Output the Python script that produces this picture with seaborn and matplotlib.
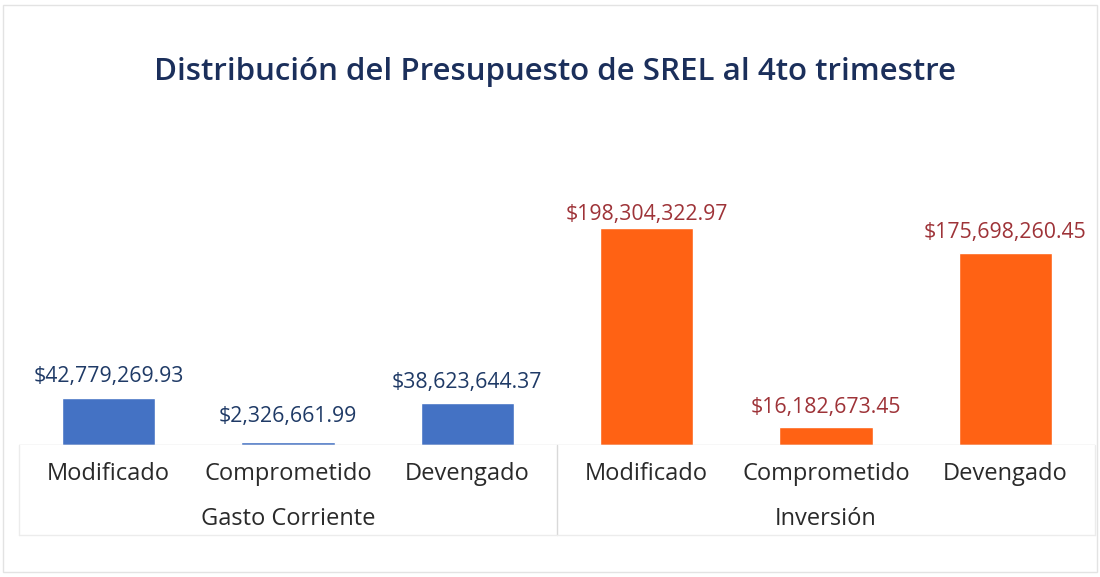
import matplotlib
matplotlib.use("Agg")
import matplotlib.pyplot as plt
import seaborn as sns
import pandas as pd

# ---- data ----
grupos = ["Gasto Corriente", "Gasto Corriente", "Gasto Corriente",
          "Inversión", "Inversión", "Inversión"]
conceptos = ["Modificado", "Comprometido", "Devengado",
             "Modificado", "Comprometido", "Devengado"]
montos = [42779269.93, 2326661.99, 38623644.37,
          198304322.97, 16182673.45, 175698260.45]
titulo = "Distribución del Presupuesto de SREL al 4to trimestre"

sns.set_theme(style="white")
plt.rcParams["font.family"] = ["Open Sans", "DejaVu Sans"]

df = pd.DataFrame({"grupo": grupos, "concepto": conceptos, "monto": montos})
df["clave"] = df["grupo"] + "|" + df["concepto"]

bar_colors = {"Gasto Corriente": "#4472C4", "Inversión": "#FF6214"}
label_colors = {"Gasto Corriente": "#1F3A66", "Inversión": "#9E3338"}

fig = plt.figure(figsize=(11, 5.77), dpi=100)
ax = fig.add_axes([19 / 1100, (577 - 445) / 577, (1095 - 19) / 1100, 295 / 577])

sns.barplot(data=df, x="clave", y="monto", hue="grupo", order=list(df["clave"]),
            palette=bar_colors, dodge=False, width=0.52, legend=False, ax=ax,
            saturation=1)

ax.set_ylim(0, 269.6e6)
ax.set_xlim(-0.5, 5.5)
for s in ax.spines.values():
    s.set_visible(False)
ax.set_yticks([])
ax.set_xlabel("")
ax.set_ylabel("")
ax.set_xticks(range(len(conceptos)))
ax.set_xticklabels(conceptos, fontsize=17, color="#2a2a2a")
ax.tick_params(axis="x", length=0, pad=12)

# value labels
pads = [8, 11, 7, 2.5, 7, 7]
patches = sorted(ax.patches, key=lambda p: p.get_x())
patches = [p for p in patches if p.get_width() > 0][:len(montos)]
for i, p in enumerate(patches):
    g = grupos[i]
    ax.annotate(f"${montos[i]:,.2f}", xy=(p.get_x() + p.get_width() / 2, p.get_height()),
                xytext=(0, pads[i]), textcoords="offset points", ha="center", va="bottom",
                fontsize=15.3, color=label_colors[g])

# baseline and group separators
ax.axhline(0, color="#d9d9d9", lw=1)
ax.axvline(2.5, ymin=-0.305, ymax=0, color="#d9d9d9", lw=1, clip_on=False)
ax.axvline(-0.5, ymin=-0.305, ymax=0, color="#ececec", lw=1, clip_on=False)
ax.axvline(5.5, ymin=-0.305, ymax=0, color="#ececec", lw=1, clip_on=False)
ax.plot([-0.5, 5.5], [-0.305, -0.305], transform=ax.get_xaxis_transform(),
        color="#ececec", lw=1, clip_on=False)

# group labels
for g in ["Gasto Corriente", "Inversión"]:
    xs = [i for i, gg in enumerate(grupos) if gg == g]
    ax.annotate(g, xy=(sum(xs) / len(xs), 0), xycoords=("data", "axes fraction"),
                xytext=(0, -53.5), textcoords="offset points", ha="center", va="center",
                fontsize=17, color="#2a2a2a")

fig.text(555 / 1100, 1 - 72 / 577, titulo, ha="center", va="center",
         fontsize=22.5, fontweight="semibold", color="#1B2F5B")

# outer light frame
fig.patches.append(plt.Rectangle((3 / 1100, 5 / 577), 1094 / 1100, 567 / 577,
                                 transform=fig.transFigure, fill=False,
                                 edgecolor="#e3e3e3", lw=1))

fig.savefig("out.png", dpi=100)
